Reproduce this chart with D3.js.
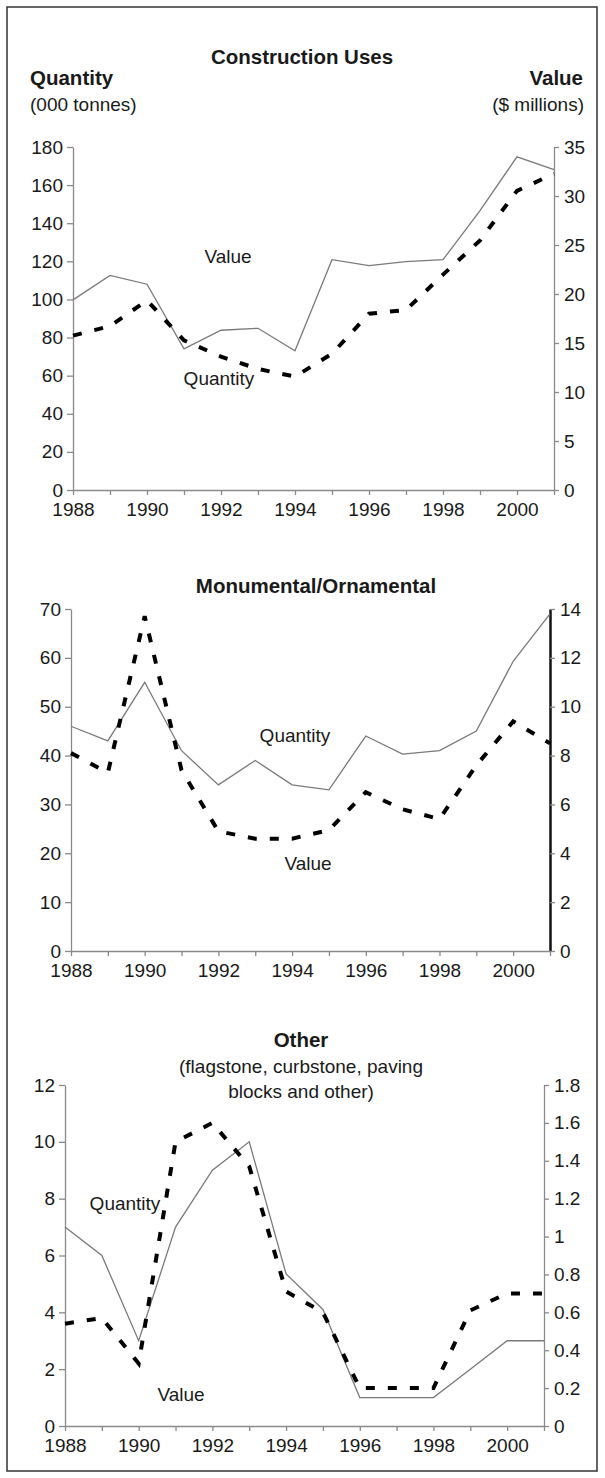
<!DOCTYPE html>
<html>
<head>
<meta charset="utf-8">
<script src="https://cdn.jsdelivr.net/npm/d3@7"></script>
<style>
  body { margin: 0; background: #fff; }
  text { font-family: "Liberation Sans", Arial, sans-serif; fill: #1a1a1a; }
</style>
</head>
<body>
<div id="chart"></div>
<script>
var years = [1988, 1989, 1990, 1991, 1992, 1993, 1994, 1995, 1996, 1997, 1998, 1999, 2000, 2001];
var yearLabels = [1988, 1990, 1992, 1994, 1996, 1998, 2000];

// Construction Uses
var constructionQuantity = [81, 86, 99.5, 78.5, 70, 63.5, 59.5, 71.5, 92.5, 94.5, 113, 131, 157, 166];
var constructionValue = [19.4, 21.9, 21, 14.4, 16.3, 16.5, 14.2, 23.5, 22.9, 23.3, 23.5, 28.5, 34, 32.7];
var constructionLeftTicks = [0, 20, 40, 60, 80, 100, 120, 140, 160, 180];
var constructionRightTicks = [0, 5, 10, 15, 20, 25, 30, 35];

// Monumental/Ornamental
var monumentalQuantity = [46, 43, 55, 41, 34, 39, 34, 33, 44, 40.3, 41, 45, 59.3, 69];
var monumentalValue = [8.1, 7.3, 13.7, 7.4, 4.9, 4.6, 4.6, 4.95, 6.5, 5.8, 5.4, 7.6, 9.4, 8.5];
var monumentalLeftTicks = [0, 10, 20, 30, 40, 50, 60, 70];
var monumentalRightTicks = [0, 2, 4, 6, 8, 10, 12, 14];

// Other
var otherQuantity = [7, 6, 3, 7, 9, 10, 5.35, 4.1, 1, 1, 1, 2, 3, 3];
var otherValue = [0.54, 0.57, 0.33, 1.5, 1.6, 1.37, 0.71, 0.6, 0.2, 0.2, 0.2, 0.61, 0.7, 0.7];
var otherLeftTicks = [0, 2, 4, 6, 8, 10, 12];
var otherRightTicks = [0, 0.2, 0.4, 0.6, 0.8, 1, 1.2, 1.4, 1.6, 1.8];

var width = 605, height = 1478, fontSize = 19;

var svg = d3.select("#chart").append("svg")
    .attr("width", width)
    .attr("height", height);

// outer frame
svg.append("rect")
    .attr("x", 7).attr("y", 7)
    .attr("width", 590).attr("height", 1464)
    .attr("fill", "none")
    .attr("stroke", "#333")
    .attr("stroke-width", 1.5);

function addText(x, y, str, anchor, bold) {
  svg.append("text")
    .attr("x", x).attr("y", y)
    .attr("text-anchor", anchor || "middle")
    .attr("dominant-baseline", "central")
    .style("font-size", (bold ? 20.5 : fontSize) + "px")
    .style("font-weight", bold ? "bold" : "normal")
    .text(str);
}

function drawPanel(p) {
  var x = d3.scaleLinear().domain([1988, 2001]).range([p.left, p.right]);
  var yL = d3.scaleLinear().domain([p.leftTicks[0], p.leftTicks[p.leftTicks.length - 1]]).range([p.bottom, p.top]);
  var yR = d3.scaleLinear().domain([p.rightTicks[0], p.rightTicks[p.rightTicks.length - 1]]).range([p.bottom, p.top]);

  var axisColor = "#8a8a8a";

  var gL = svg.append("g")
    .attr("transform", `translate(${p.left},0)`)
    .call(d3.axisLeft(yL).tickValues(p.leftTicks).tickSize(6).tickPadding(4).tickSizeOuter(0).tickFormat(d => String(d)));

  var gR = svg.append("g")
    .attr("transform", `translate(${p.right},0)`)
    .call(d3.axisRight(yR).tickValues(p.rightTicks).tickSize(5).tickPadding(5).tickSizeOuter(0).tickFormat(d => String(d)));

  var gB = svg.append("g")
    .attr("transform", `translate(0,${p.bottom})`)
    .call(d3.axisBottom(x).tickValues(years).tickSize(5).tickPadding(8).tickSizeOuter(0)
      .tickFormat(d => yearLabels.indexOf(d) >= 0 ? String(d) : ""));

  [gL, gR, gB].forEach(g => {
    g.selectAll("path.domain").attr("stroke", axisColor).attr("stroke-width", 1.3);
    g.selectAll(".tick line").attr("stroke", axisColor).attr("stroke-width", 1.3);
    g.selectAll(".tick text").style("font-size", fontSize + "px").attr("fill", "#1a1a1a")
      .style("font-family", "'Liberation Sans', Arial, sans-serif");
  });

  if (p.darkRight) {
    gR.select("path.domain").attr("stroke", "#111").attr("stroke-width", 2.5);
  }

  var solidY = p.solidAxis === "left" ? yL : yR;
  var dashY = p.dashAxis === "left" ? yL : yR;

  var solidLine = d3.line().x((d, i) => x(years[i])).y(d => solidY(d));
  var dashLine = d3.line().x((d, i) => x(years[i])).y(d => dashY(d));

  svg.append("path")
    .datum(p.solid)
    .attr("d", solidLine)
    .attr("fill", "none")
    .attr("stroke", "#7a7a7a")
    .attr("stroke-width", 1.3);

  svg.append("path")
    .datum(p.dashed)
    .attr("d", dashLine)
    .attr("fill", "none")
    .attr("stroke", "#000")
    .attr("stroke-width", 4)
    .attr("stroke-dasharray", "9,13");

  p.labels.forEach(l => addText(l[0], l[1], l[2], "middle", false));
}

// Panel 1
addText(302, 56, "Construction Uses", "middle", true);
addText(30, 77, "Quantity", "start", true);
addText(30, 104, "(000 tonnes)", "start", false);
addText(583, 77, "Value", "end", true);
addText(584, 104, "($ millions)", "end", false);

drawPanel({
  left: 73, right: 554, top: 147, bottom: 490,
  leftTicks: constructionLeftTicks, rightTicks: constructionRightTicks,
  solid: constructionValue, solidAxis: "right",
  dashed: constructionQuantity, dashAxis: "left",
  labels: [[228, 256, "Value"], [219, 378, "Quantity"]]
});

// Panel 2
addText(316, 585, "Monumental/Ornamental", "middle", true);

drawPanel({
  left: 71, right: 550, top: 609, bottom: 951,
  leftTicks: monumentalLeftTicks, rightTicks: monumentalRightTicks,
  solid: monumentalQuantity, solidAxis: "left",
  dashed: monumentalValue, dashAxis: "right",
  darkRight: true,
  labels: [[295, 735, "Quantity"], [308, 863, "Value"]]
});

// Panel 3
addText(301, 1039, "Other", "middle", true);
addText(301, 1066, "(flagstone, curbstone, paving", "middle", false);
addText(301, 1091, "blocks and other)", "middle", false);

drawPanel({
  left: 65, right: 544, top: 1085, bottom: 1426,
  leftTicks: otherLeftTicks, rightTicks: otherRightTicks,
  solid: otherQuantity, solidAxis: "left",
  dashed: otherValue, dashAxis: "right",
  labels: [[125, 1203, "Quantity"], [181, 1394, "Value"]]
});
</script>
</body>
</html>
